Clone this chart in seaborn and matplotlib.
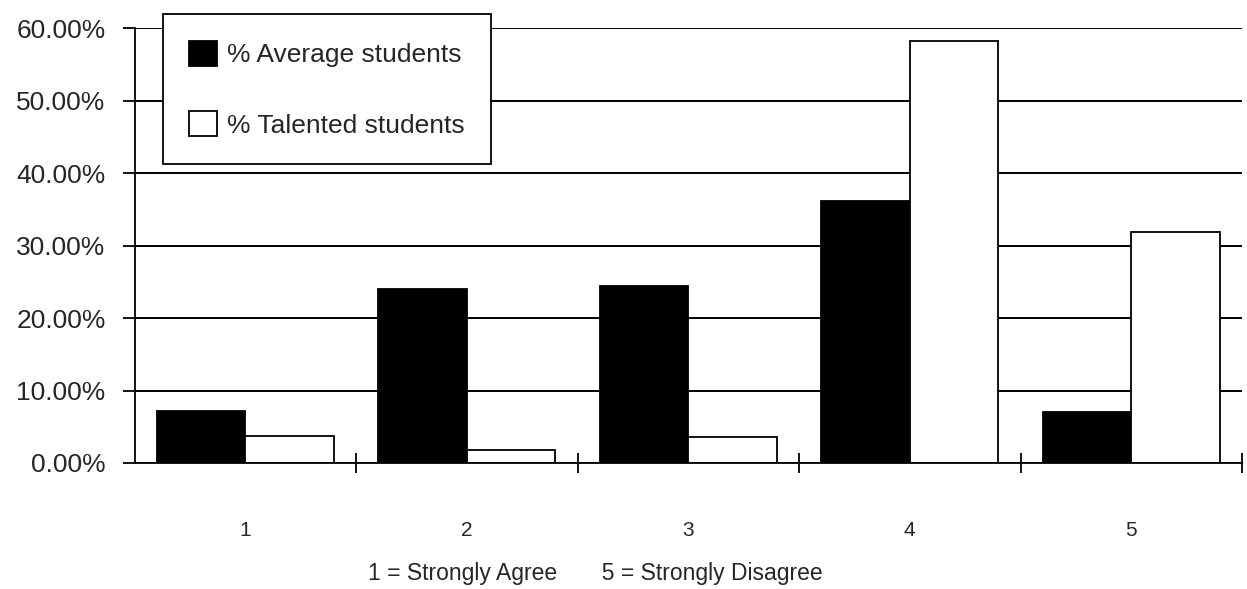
import matplotlib
matplotlib.use("Agg")
import matplotlib.pyplot as plt
import seaborn as sns
import pandas as pd
from matplotlib.ticker import PercentFormatter, FixedLocator

categories = ["1", "2", "3", "4", "5"]
average_students = [7.2, 24.0, 24.4, 36.2, 7.0]
talented_students = [3.7, 1.8, 3.6, 58.2, 31.9]
series_names = ["% Average students", "% Talented students"]
y_ticks = [0, 10, 20, 30, 40, 50, 60]
x_label = "1 = Strongly Agree       5 = Strongly Disagree"

df = pd.DataFrame({
    "category": categories * 2,
    "value": average_students + talented_students,
    "series": [series_names[0]] * len(categories) + [series_names[1]] * len(categories),
})

sns.set_style("ticks")
plt.rcParams["font.family"] = ["Liberation Sans", "DejaVu Sans"]

fig = plt.figure(figsize=(12.47, 5.89), dpi=100)
ax = fig.add_axes([0.108, 0.214, 0.888, 0.738])

ax.yaxis.grid(True, color="black", linewidth=1.4)
ax.set_axisbelow(True)

sns.barplot(data=df, x="category", y="value", hue="series", order=categories,
            hue_order=series_names, palette=["black", "white"],
            edgecolor="black", linewidth=1.3, width=0.8, saturation=1,
            ax=ax)

ax.set_xlim(-0.5, 4.5)
ax.set_ylim(0, 60)
ax.set_yticks(y_ticks)
ax.yaxis.set_major_formatter(PercentFormatter(decimals=2))
ax.tick_params(axis="y", labelsize=19, length=9, width=1.3, pad=12, color="black")
ax.tick_params(axis="x", which="major", labelsize=15, length=0, pad=42)
ax.xaxis.set_minor_locator(FixedLocator([0.5, 1.5, 2.5, 3.5, 4.5]))
ax.tick_params(axis="x", which="minor", direction="inout", length=14, width=1.3, color="black")

ax.set_xlabel(x_label, fontsize=16.5)
ax.xaxis.set_label_coords(0.416, -0.228)
ax.set_ylabel("")

for side in ["top", "right"]:
    ax.spines[side].set_visible(False)
for side in ["left", "bottom"]:
    ax.spines[side].set_color("black")
    ax.spines[side].set_linewidth(1.3)

leg = ax.legend(loc="upper left", bbox_to_anchor=(0.0253, 1.032), fontsize=19,
                frameon=True, fancybox=False, framealpha=1, edgecolor="black",
                handlelength=1.05, handleheight=1.1, handletextpad=0.4,
                labelspacing=1.65, borderpad=1.0, borderaxespad=0)
leg.get_frame().set_linewidth(1.3)
leg.set_zorder(10)

fig.savefig("out.png", dpi=100)
